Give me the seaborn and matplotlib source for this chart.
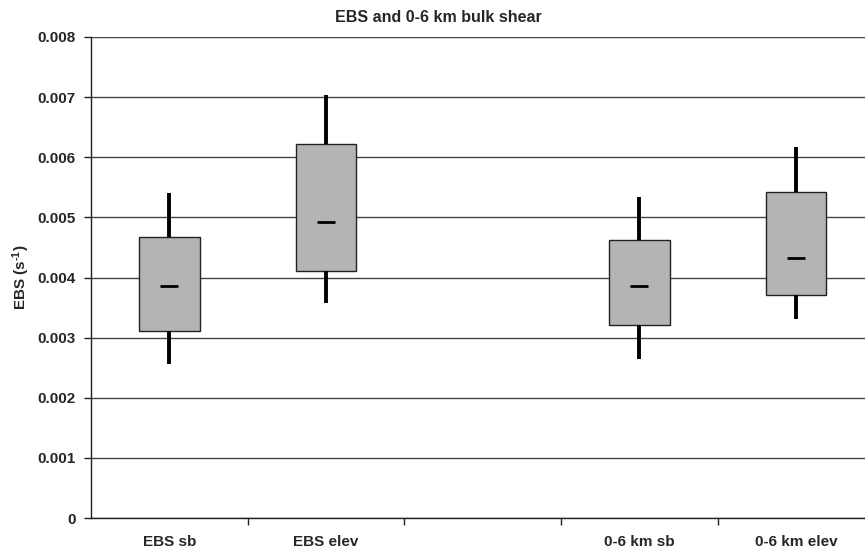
import seaborn as sns
import matplotlib.pyplot as plt
import pandas as pd
from matplotlib.ticker import FixedLocator, FuncFormatter

# box summary values (s^-1)
categories = ["EBS sb", "EBS elev", " ", "0-6 km sb", "0-6 km elev"]
groups = ["EBS sb", "EBS elev", "0-6 km sb", "0-6 km elev"]
whisker_low = [0.00256, 0.00358, 0.00265, 0.00331]
q1 = [0.00311, 0.00411, 0.00321, 0.00371]
median = [0.00386, 0.00493, 0.00386, 0.00432]
q3 = [0.00468, 0.00622, 0.00463, 0.00542]
whisker_high = [0.00541, 0.00704, 0.00534, 0.00617]

# five summary points per group -> seaborn gets exact quartiles with whis=(0, 100)
rows = []
for i, g in enumerate(groups):
    for v in (whisker_low[i], q1[i], median[i], q3[i], whisker_high[i]):
        rows.append({"group": g, "value": v})
df = pd.DataFrame(rows)
med_df = pd.DataFrame({"group": groups, "value": median})

sns.set_style("white")
plt.rcParams["font.family"] = ["Liberation Sans", "DejaVu Sans"]
plt.rcParams["font.weight"] = "bold"
plt.rcParams["mathtext.fontset"] = "custom"
plt.rcParams["mathtext.bf"] = "Liberation Sans:bold"
plt.rcParams["mathtext.rm"] = "Liberation Sans:bold"
plt.rcParams["mathtext.default"] = "bf"

fig = plt.figure(figsize=(8.65, 5.52), dpi=100)
ax = fig.add_axes([91 / 865, 34 / 552, 783.5 / 865, 481 / 552])

sns.boxplot(data=df, x="group", y="value", order=categories, ax=ax,
            whis=(0, 100), width=0.385, color="#b4b4b4", saturation=1,
            linecolor="#222222", linewidth=1, showcaps=False, showfliers=False,
            whiskerprops={"linewidth": 2.8, "color": "black"},
            medianprops={"linewidth": 0})

# short median dashes
sns.scatterplot(data=med_df, x="group", y="value", marker="_", s=150,
                color="black", linewidth=2, ax=ax, zorder=5)

ax.set_xlim(-0.5, 4.5)
ax.set_ylim(0, 0.008)
ax.yaxis.set_major_locator(FixedLocator([i / 1000 for i in range(9)]))
ax.yaxis.set_major_formatter(FuncFormatter(lambda v, p: "0" if v == 0 else f"{v:.3f}"))
ax.yaxis.grid(True, color="#444444", linewidth=1)
ax.set_axisbelow(True)

ax.xaxis.set_minor_locator(FixedLocator([0.5, 1.5, 2.5, 3.5]))
ax.tick_params(axis="x", which="major", length=0, pad=12, labelsize=11)
ax.tick_params(axis="x", which="minor", length=5, width=1, color="#222222", direction="out", bottom=True)
ax.tick_params(axis="y", length=5, width=1, color="#222222", direction="out", left=True, labelsize=11, pad=6)
for lab in ax.get_xticklabels() + ax.get_yticklabels():
    lab.set_fontweight("bold")

for side in ["top", "right"]:
    ax.spines[side].set_visible(False)
for side in ["left", "bottom"]:
    ax.spines[side].set_color("#222222")
    ax.spines[side].set_linewidth(1)

ax.set_xlabel("")
ax.set_ylabel(r"EBS (s$^{\text{-1}}$)", fontsize=11, fontweight="bold", labelpad=4)
fig.text(438 / 865, 1 - 18 / 552, "EBS and 0-6 km bulk shear", ha="center", va="center",
         fontsize=11.5, fontweight="bold")

fig.savefig("out.png", dpi=100)
